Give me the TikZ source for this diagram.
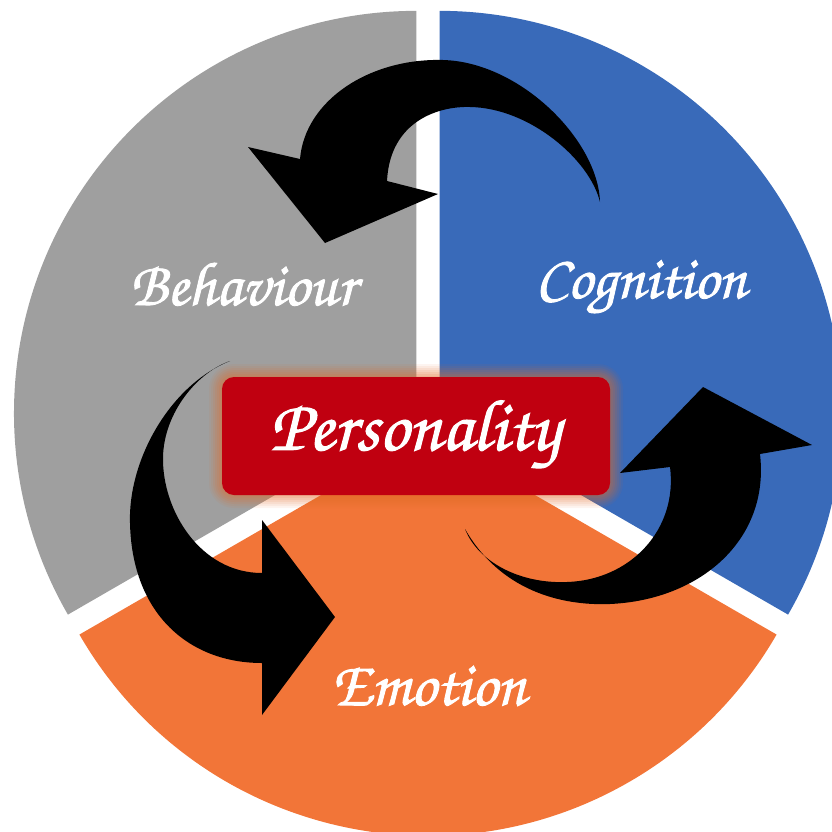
\documentclass[tikz,border=0pt]{standalone}
\usepackage[T1,TU]{fontenc}
\usepackage{graphicx}
\definecolor{graycol}{RGB}{159,159,159}
\definecolor{bluecol}{RGB}{57,106,185}
\definecolor{orangecol}{RGB}{242,117,56}
\definecolor{boxred}{RGB}{192,0,16}
\definecolor{glowcol}{RGB}{225,105,40}
\newcommand{\chanfont}{\fontencoding{T1}\fontfamily{pzc}\selectfont}
\newcommand{\heavytext}[1]{\special{pdf:literal direct 2 Tr 0.14 w}#1\special{pdf:literal direct 0 Tr}}
\tikzset{
  lbl/.style={text=white, inner sep=0pt, anchor=base},
  arrowshape/.style={fill=black, draw=none},
  boxstyle/.style={fill=boxred, rounded corners=9pt, minimum width=291pt, minimum height=88.5pt, inner sep=0pt},
}
\begin{document}
\begin{tikzpicture}[x=0.75pt,y=-0.75pt]
\useasboundingbox (0,0) rectangle (832,832);
\clip (0,0) rectangle (832,832);
\coordinate (c) at (428,420);
\path (c) ++(210:13.3) coordinate (cg);
\path (c) ++(330:13.3) coordinate (cb);
\path (c) ++(90:13.3) coordinate (co);
% exploded sectors
\fill[graycol] (cg) -- ++(270:402.5) arc[start angle=270, end angle=150, radius=402.5] -- cycle;
\fill[orangecol] (co) -- ++(150:402.5) arc[start angle=150, end angle=30, radius=402.5] -- cycle;
\fill[bluecol] (cb) -- ++(30:402.5) arc[start angle=30, end angle=-90, radius=402.5] -- cycle;
% glow
\foreach \i/\o in {13/0.07, 11/0.08, 9/0.09, 7/0.1, 5/0.11, 3/0.12, 1/0.12} {
  \fill[glowcol, opacity=\o, rounded corners={(12+\i)*0.75pt}] (222-\i,377-\i) rectangle (610+\i,495+\i);
}
% box
\node[boxstyle] (box) at (416,436) {};
% arrows
\fill[arrowshape] (600,202) .. controls (598,140) and (520,62) .. (443,60)
  .. controls (370,58) and (305,100) .. (300,159)
  -- (248,147) -- (325,243) -- (438,194) -- (387,181)
  .. controls (390,120) and (440,106) .. (470,107)
  .. controls (530,108) and (590,160) .. (600,202) -- cycle;
\fill[arrowshape] (230,361) .. controls (170,385) and (128,460) .. (130,523)
  .. controls (132,615) and (190,663) .. (262,663)
  -- (262,715) -- (335,617) -- (262,520) -- (262,573)
  .. controls (200,573) and (162,510) .. (163,457)
  .. controls (164,412) and (198,372) .. (230,361) -- cycle;
\fill[arrowshape] (465,529) .. controls (500,590) and (560,606) .. (610,604)
  .. controls (700,600) and (770,540) .. (760,454)
  -- (812,445) -- (703,387) -- (620,473) -- (670,467)
  .. controls (678,530) and (630,580) .. (567,582)
  .. controls (520,584) and (478,562) .. (465,529) -- cycle;
% labels
\node[lbl] (pers) at (415,450) {\resizebox{217.5pt}{!}{\heavytext{\chanfont Personality}}};
\node[lbl] (beh) at (243,305) {\resizebox{169.5pt}{!}{\heavytext{\chanfont Behaviour}}};
\node[lbl] (cog) at (641,298) {\resizebox{158pt}{!}{\heavytext{\chanfont Cognition}}};
\node[lbl] (emo) at (429,705) {\resizebox{145.5pt}{!}{\heavytext{\chanfont Emotion}}};
\end{tikzpicture}
\end{document}
